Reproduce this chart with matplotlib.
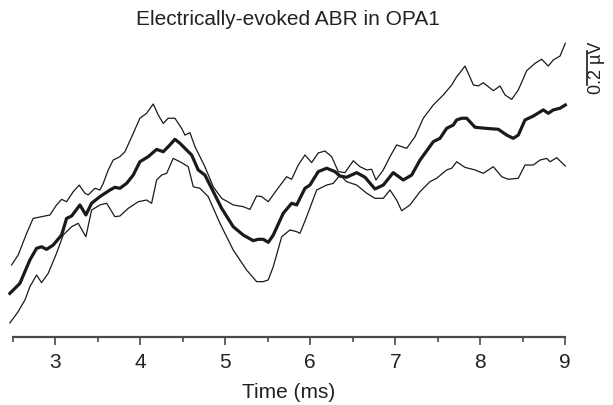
import matplotlib
matplotlib.use("Agg")
import matplotlib.pyplot as plt
from matplotlib.ticker import MultipleLocator

plt.rcParams['font.family'] = ['Liberation Sans', 'DejaVu Sans']

# mean trace (thick), time in ms, amplitude in uV
t_mean = [2.467, 2.585, 2.702, 2.781, 2.840, 2.899, 2.976, 3.075, 3.134, 3.193,
          3.291, 3.361, 3.428, 3.526, 3.644, 3.702, 3.761, 3.840, 3.918, 3.996,
          4.094, 4.193, 4.271, 4.349, 4.408, 4.467, 4.546, 4.605, 4.682, 4.761,
          4.859, 4.958, 5.094, 5.212, 5.329, 5.388, 5.447, 5.506, 5.565, 5.682,
          5.781, 5.840, 5.938, 5.996, 6.094, 6.193, 6.291, 6.349, 6.428, 6.546,
          6.644, 6.761, 6.859, 6.976, 7.094, 7.193, 7.291, 7.447, 7.526, 7.605,
          7.682, 7.722, 7.781, 7.840, 7.938, 8.055, 8.212, 8.311, 8.388, 8.447,
          8.526, 8.624, 8.741, 8.800, 8.859, 8.938, 9.0]
v_mean = [-0.255, -0.196, -0.059, 0.010, 0.019, 0.004, 0.029, 0.088, 0.186, 0.200,
          0.265, 0.206, 0.275, 0.314, 0.353, 0.369, 0.363, 0.392, 0.441, 0.519,
          0.549, 0.592, 0.578, 0.618, 0.651, 0.628, 0.588, 0.559, 0.471, 0.441,
          0.344, 0.245, 0.137, 0.088, 0.055, 0.063, 0.063, 0.045, 0.088, 0.216,
          0.275, 0.265, 0.363, 0.382, 0.461, 0.481, 0.461, 0.435, 0.428, 0.455,
          0.428, 0.359, 0.382, 0.455, 0.412, 0.441, 0.529, 0.637, 0.657, 0.716,
          0.735, 0.765, 0.775, 0.775, 0.722, 0.716, 0.710, 0.676, 0.657, 0.676,
          0.765, 0.788, 0.824, 0.804, 0.824, 0.834, 0.853]

# upper bound trace (mean + SEM)
t_upper = [2.487, 2.565, 2.664, 2.741, 2.840, 2.938, 3.016, 3.075, 3.134, 3.212,
           3.282, 3.349, 3.388, 3.467, 3.526, 3.565, 3.624, 3.682, 3.761, 3.820,
           3.918, 3.996, 4.075, 4.153, 4.212, 4.271, 4.329, 4.408, 4.487, 4.526,
           4.585, 4.644, 4.761, 4.859, 4.958, 5.094, 5.212, 5.291, 5.369, 5.428,
           5.506, 5.605, 5.722, 5.781, 5.859, 5.938, 6.016, 6.094, 6.173, 6.252,
           6.329, 6.408, 6.506, 6.585, 6.664, 6.722, 6.773, 6.859, 6.938, 7.016,
           7.134, 7.232, 7.329, 7.447, 7.565, 7.664, 7.722, 7.761, 7.820, 7.859,
           7.918, 7.976, 8.035, 8.094, 8.153, 8.232, 8.291, 8.369, 8.447, 8.546,
           8.644, 8.722, 8.800, 8.859, 8.938, 9.0]
v_upper = [-0.088, -0.029, 0.098, 0.186, 0.196, 0.206, 0.265, 0.298, 0.284, 0.343,
           0.382, 0.334, 0.324, 0.363, 0.353, 0.392, 0.471, 0.529, 0.549, 0.578,
           0.686, 0.775, 0.804, 0.859, 0.794, 0.745, 0.775, 0.775, 0.716, 0.676,
           0.690, 0.608, 0.490, 0.372, 0.304, 0.265, 0.255, 0.239, 0.318, 0.314,
           0.284, 0.353, 0.431, 0.416, 0.500, 0.559, 0.514, 0.571, 0.582, 0.549,
           0.461, 0.455, 0.525, 0.490, 0.471, 0.475, 0.412, 0.471, 0.549, 0.618,
           0.598, 0.666, 0.775, 0.853, 0.912, 0.971, 1.019, 1.043, 1.082, 1.039,
           0.971, 0.965, 0.984, 0.961, 0.937, 0.965, 0.912, 0.886, 0.941, 1.055,
           1.098, 1.122, 1.082, 1.118, 1.141, 1.216]

# lower bound trace (mean - SEM)
t_lower = [2.467, 2.561, 2.644, 2.702, 2.781, 2.840, 2.918, 3.016, 3.094, 3.193,
           3.271, 3.361, 3.428, 3.526, 3.605, 3.702, 3.761, 3.859, 3.976, 4.075,
           4.134, 4.193, 4.252, 4.311, 4.388, 4.487, 4.565, 4.624, 4.702, 4.800,
           4.938, 5.094, 5.252, 5.369, 5.447, 5.506, 5.565, 5.664, 5.761, 5.840,
           5.879, 5.958, 6.075, 6.193, 6.271, 6.349, 6.428, 6.546, 6.664, 6.761,
           6.859, 6.938, 7.016, 7.075, 7.173, 7.291, 7.408, 7.487, 7.605, 7.664,
           7.722, 7.820, 7.938, 8.035, 8.153, 8.252, 8.329, 8.447, 8.526, 8.624,
           8.702, 8.781, 8.820, 8.899, 9.0]
v_lower = [-0.429, -0.365, -0.294, -0.216, -0.147, -0.192, -0.137, -0.019, 0.088, 0.137,
           0.157, 0.078, 0.235, 0.265, 0.275, 0.196, 0.200, 0.245, 0.284, 0.294,
           0.275, 0.412, 0.441, 0.451, 0.539, 0.514, 0.490, 0.372, 0.363, 0.314,
           0.157, 0.000, -0.118, -0.186, -0.186, -0.176, -0.098, 0.078, 0.118, 0.108,
           0.098, 0.196, 0.353, 0.382, 0.392, 0.441, 0.402, 0.382, 0.334, 0.304,
           0.304, 0.353, 0.294, 0.231, 0.265, 0.343, 0.402, 0.422, 0.471, 0.481,
           0.519, 0.486, 0.471, 0.451, 0.490, 0.431, 0.416, 0.422, 0.500, 0.500,
           0.529, 0.539, 0.519, 0.543, 0.494]

xticks = [3, 4, 5, 6, 7, 8, 9]
scale_uv = 0.2

fig = plt.figure(figsize=(6.13, 4.05), dpi=100)
ax = fig.add_axes([0.0207, 0.1686, 0.9015, 0.7573])

ink = '#1a1a1a'
ax.plot(t_upper, v_upper, color=ink, lw=0.9, clip_on=False)
ax.plot(t_lower, v_lower, color=ink, lw=0.9, clip_on=False)
ax.plot(t_mean, v_mean, color=ink, lw=2.3, clip_on=False, solid_joinstyle='round')

ax.set_xlim(2.5, 9)
ax.set_ylim(-0.51, 1.294)

for s in ['left', 'top', 'right']:
    ax.spines[s].set_visible(False)
ax.spines['bottom'].set_color('#4a4a4a')
ax.spines['bottom'].set_linewidth(1.6)
ax.set_yticks([])
ax.set_xticks(xticks)
ax.xaxis.set_minor_locator(MultipleLocator(0.5))
ax.tick_params(axis='x', which='major', length=6, width=1.2, color='#4a4a4a',
               labelsize=15, pad=6, labelcolor='#222222')
ax.tick_params(axis='x', which='minor', length=3.6, width=1.2, color='#4a4a4a')
ax.set_xlabel('Time (ms)', fontsize=15, color='#222222', labelpad=8)

# scale bar
ax.plot([9.255, 9.255], [0.971, 0.971 + scale_uv], color=ink, lw=1.2, clip_on=False)
ax.text(9.37, 0.971 + scale_uv / 2, '0.2 µV', rotation=90, ha='center', va='center',
        fontsize=13, color='#222222', clip_on=False)

fig.text(0.469, 0.952, 'Electrically-evoked ABR in OPA1', ha='center', va='center',
         fontsize=15, color='#222222')

fig.savefig('out.png', dpi=100)
